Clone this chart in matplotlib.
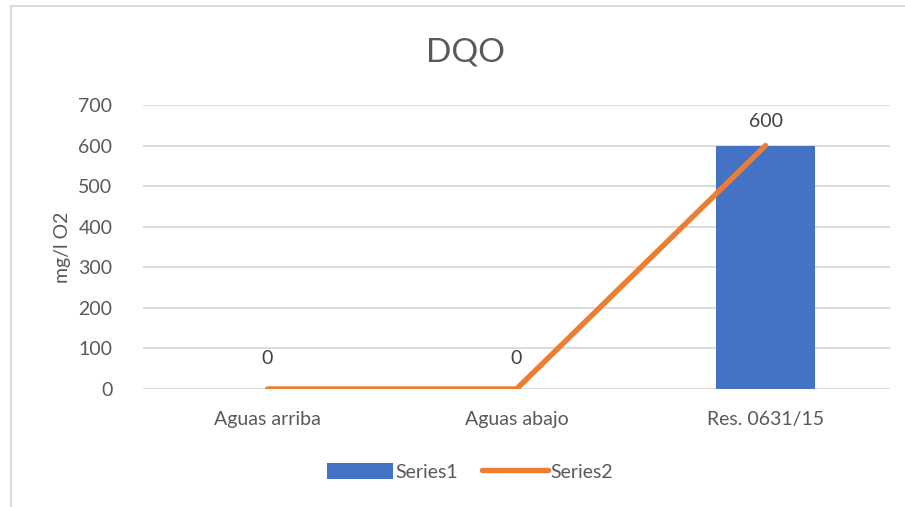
import matplotlib
matplotlib.use("Agg")
from matplotlib import pyplot as plt
from matplotlib.patches import Rectangle
import numpy as np

# dati
categorie = ["Aguas arriba", "Aguas abajo", "Res. 0631/15"]
serie1 = [0, 0, 600]
serie2 = [0, 0, 600]
yticks = [0, 100, 200, 300, 400, 500, 600, 700]

plt.rcParams['font.family'] = ['Lato', 'DejaVu Sans']
grigio = '#595959'

fig = plt.figure(figsize=(9.05, 5.07), dpi=100)
fig.patch.set_facecolor('white')

# bordo del grafico (solo sinistra e sopra visibili)
fig.patches.append(Rectangle((11/905, -0.1), 1.2, 1 - 6/507 + 0.1, transform=fig.transFigure,
                             fill=False, edgecolor='#D9D9D9', linewidth=1.5))

ax = fig.add_axes([143/905, 1 - 389/507, 747/905, (389 - 105)/507])
x = np.arange(len(categorie))

b = ax.bar(x, serie1, width=0.4, color='#4472C4', label='Series1', zorder=2)
l, = ax.plot(x, serie2, color='#ED7D31', linewidth=3.9, solid_capstyle='round',
             label='Series2', zorder=3)

# etichette dati
for xi, v in zip(x, serie2):
    off = 22 if v == 0 else 17
    ax.annotate(str(v), (xi, v), xytext=(0, off), textcoords='offset points',
                ha='center', va='center', fontsize=14, color='#404040')

ax.set_xlim(-0.5, 2.5)
ax.set_ylim(0, 700)
ax.set_yticks(yticks)
ax.set_xticks(x)
ax.set_xticklabels(categorie)
ax.tick_params(axis='both', length=0, labelsize=14, labelcolor=grigio)
ax.tick_params(axis='x', pad=16)
ax.tick_params(axis='y', pad=22)
ax.grid(axis='y', color='#D9D9D9', linewidth=1.3, zorder=0)
ax.set_axisbelow(True)
for s in ax.spines.values():
    s.set_visible(False)

ax.set_ylabel('mg/l O2', fontsize=14, color=grigio, labelpad=5)
fig.suptitle('DQO', x=465/905, y=1 - 52/507, va='center', fontsize=24, color=grigio)

fig.legend(handles=[b, l], labels=['Series1', 'Series2'], loc='center', ncol=2,
           bbox_to_anchor=(470/905, 1 - 472/507), frameon=False, fontsize=14,
           labelcolor=grigio, handlelength=3.4, handleheight=0.9, handletextpad=0.15,
           columnspacing=1.2)

fig.savefig('out.png', dpi=100)
